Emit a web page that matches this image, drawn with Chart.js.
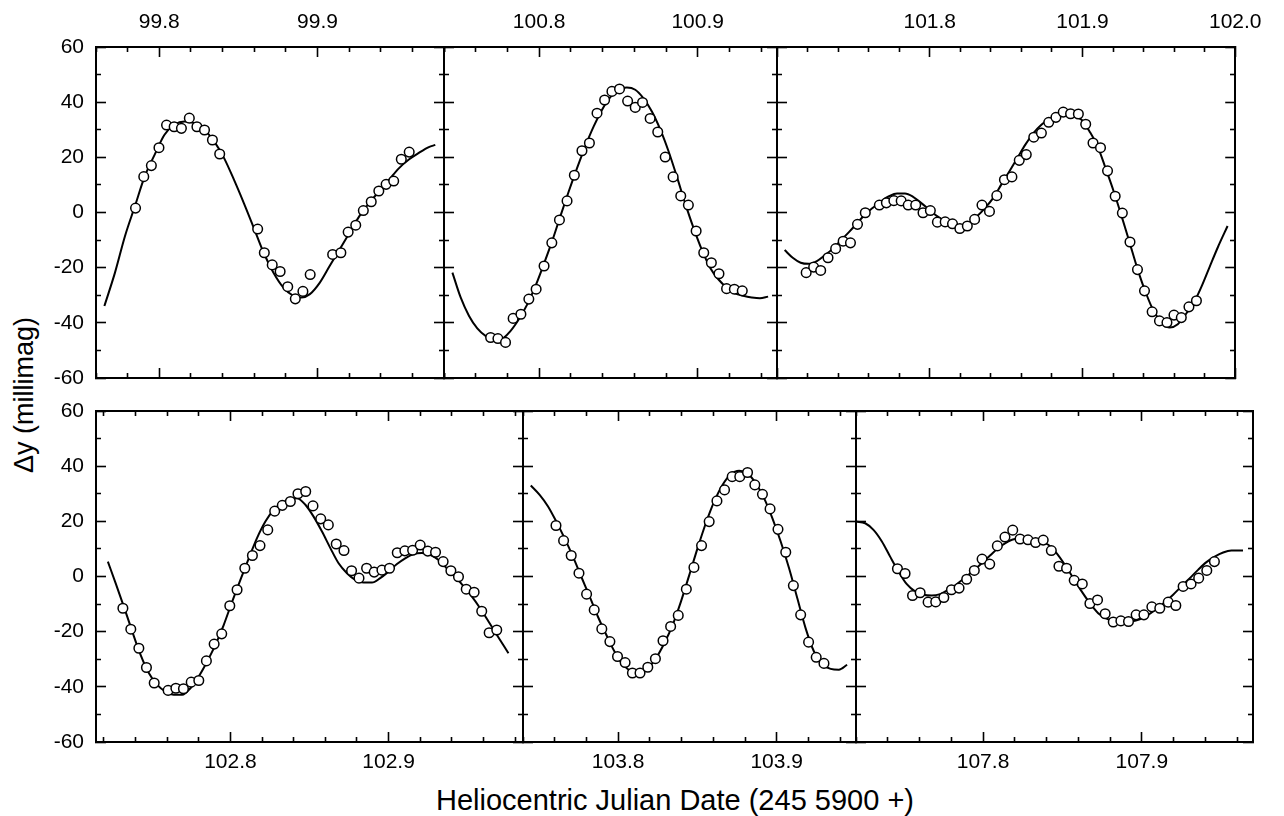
<!DOCTYPE html>
<html>
<head>
<meta charset="utf-8">
<script src="https://cdn.jsdelivr.net/npm/chart.js@4.4.1/dist/chart.umd.min.js"></script>
<style>
html,body{margin:0;padding:0;background:#fff;}
body{width:1284px;height:816px;position:relative;overflow:hidden;font-family:"Liberation Sans",Arial,Helvetica,sans-serif;color:#000;}
canvas{position:absolute;left:0;top:0;}
#ytitle{position:absolute;left:24px;top:395px;transform:translate(-50%,-50%) rotate(-90deg);font-size:27px;white-space:nowrap;}
#xtitle{position:absolute;left:675px;top:800px;transform:translate(-50%,-50%);font-size:29px;white-space:nowrap;}
</style>
</head>
<body>
<div id="ytitle">Δy (millimag)</div>
<div id="xtitle">Heliocentric Julian Date (245 5900 +)</div>
<canvas id="c1" width="1284" height="816"></canvas>
<canvas id="c2" width="1284" height="816"></canvas>
<canvas id="c3" width="1284" height="816"></canvas>
<canvas id="c4" width="1284" height="816"></canvas>
<canvas id="c5" width="1284" height="816"></canvas>
<canvas id="c6" width="1284" height="816"></canvas>
<script>
// ---------------- DATA (HJD - 2455900, Δy in millimag) ----------------
// Panel 1
const p1Time = [99.7850, 99.7902, 99.7950, 99.7998, 99.8046, 99.8094, 99.8140, 99.8190, 99.8238, 99.8286, 99.8336, 99.8382, 99.8622, 99.8664, 99.8714, 99.8764, 99.8812, 99.8860, 99.8908, 99.8954, 99.9096, 99.9148, 99.9194, 99.9242, 99.9290, 99.9340, 99.9388, 99.9434, 99.9482, 99.9530, 99.9580];
const p1Dy = [1.6, 13.0, 17.0, 23.5, 31.7, 31.1, 30.5, 34.2, 31.1, 29.9, 26.3, 21.2, -6.0, -14.6, -19.0, -21.4, -26.9, -31.3, -28.6, -22.5, -15.2, -14.6, -7.1, -4.6, 0.7, 3.9, 7.8, 10.2, 11.4, 19.3, 21.9];
const p1FitTime = [99.7653, 99.7720, 99.7783, 99.7846, 99.7908, 99.7971, 99.8033, 99.8096, 99.8159, 99.8221, 99.8284, 99.8347, 99.8409, 99.8472, 99.8534, 99.8597, 99.8660, 99.8722, 99.8785, 99.8848, 99.8900, 99.8952, 99.9015, 99.9077, 99.9140, 99.9203, 99.9265, 99.9328, 99.9390, 99.9453, 99.9516, 99.9578, 99.9641, 99.9704, 99.9745];
const p1FitDy = [-33.9, -21.8, -8.6, 2.3, 13.1, 21.0, 28.2, 31.8, 33.0, 32.4, 30.0, 25.8, 19.8, 11.9, 3.5, -5.5, -14.6, -21.8, -27.2, -30.2, -30.8, -29.6, -25.4, -19.4, -13.4, -7.3, -1.3, 3.5, 7.7, 11.9, 16.1, 19.2, 21.6, 23.7, 24.5];

// Panel 2
const p2Time = [100.7694, 100.7740, 100.7788, 100.7836, 100.7885, 100.7935, 100.7981, 100.8031, 100.8080, 100.8128, 100.8176, 100.8222, 100.8270, 100.8317, 100.8365, 100.8413, 100.8459, 100.8507, 100.8558, 100.8606, 100.8652, 100.8700, 100.8748, 100.8795, 100.8845, 100.8893, 100.8941, 100.8990, 100.9038, 100.9086, 100.9134, 100.9182, 100.9231, 100.9281];
const p2Dy = [-45.3, -45.7, -47.1, -38.4, -36.9, -31.4, -27.8, -19.4, -11.0, -2.7, 4.2, 13.5, 22.4, 25.2, 36.0, 40.8, 43.9, 44.8, 40.4, 38.1, 39.9, 34.1, 29.2, 20.1, 12.9, 6.0, 2.7, -6.7, -14.6, -18.2, -22.2, -27.6, -27.8, -28.4];
const p2FitTime = [100.7453, 100.7505, 100.7558, 100.7610, 100.7662, 100.7715, 100.7767, 100.7820, 100.7872, 100.7925, 100.7977, 100.8029, 100.8082, 100.8134, 100.8187, 100.8239, 100.8291, 100.8344, 100.8396, 100.8449, 100.8501, 100.8553, 100.8606, 100.8658, 100.8711, 100.8763, 100.8816, 100.8868, 100.8920, 100.8973, 100.9025, 100.9078, 100.9130, 100.9182, 100.9235, 100.9287, 100.9340, 100.9392, 100.9444];
const p2FitDy = [-21.8, -30.8, -37.5, -42.0, -44.7, -45.9, -45.7, -42.9, -38.7, -33.3, -26.6, -18.8, -10.4, -1.3, 7.7, 16.1, 24.0, 31.2, 37.2, 41.8, 44.5, 45.3, 44.5, 41.4, 36.6, 30.2, 22.2, 13.1, 3.5, -5.5, -13.4, -20.0, -24.2, -27.2, -29.3, -30.2, -30.8, -31.1, -30.5];

// Panel 3
const p3Time = [101.7191, 101.7240, 101.7286, 101.7334, 101.7384, 101.7433, 101.7481, 101.7527, 101.7578, 101.7670, 101.7716, 101.7765, 101.7813, 101.7859, 101.7908, 101.7956, 101.8004, 101.8050, 101.8101, 101.8149, 101.8197, 101.8246, 101.8294, 101.8342, 101.8391, 101.8439, 101.8489, 101.8538, 101.8586, 101.8632, 101.8681, 101.8731, 101.8779, 101.8826, 101.8874, 101.8922, 101.8973, 101.9021, 101.9069, 101.9118, 101.9164, 101.9214, 101.9261, 101.9311, 101.9360, 101.9406, 101.9456, 101.9504, 101.9553, 101.9599, 101.9647, 101.9697, 101.9746];
const p3Dy = [-21.8, -19.8, -21.0, -16.4, -13.1, -10.4, -11.0, -4.3, -0.1, 2.7, 3.5, 4.3, 4.2, 2.7, 2.7, -0.1, 0.7, -3.5, -3.4, -4.1, -5.8, -4.9, -2.5, 2.7, 0.4, 6.1, 11.9, 12.9, 18.9, 21.0, 27.3, 28.8, 32.7, 34.5, 36.4, 35.8, 35.7, 32.0, 25.2, 23.5, 15.1, 5.9, -0.2, -10.7, -20.7, -28.4, -36.0, -39.3, -39.9, -37.2, -38.1, -34.2, -32.0];
const p3FitTime = [101.7050, 101.7103, 101.7155, 101.7208, 101.7261, 101.7313, 101.7366, 101.7418, 101.7471, 101.7523, 101.7576, 101.7628, 101.7681, 101.7733, 101.7786, 101.7838, 101.7891, 101.7943, 101.7996, 101.8048, 101.8101, 101.8153, 101.8206, 101.8258, 101.8311, 101.8363, 101.8416, 101.8468, 101.8521, 101.8574, 101.8626, 101.8679, 101.8731, 101.8784, 101.8836, 101.8889, 101.8941, 101.8994, 101.9046, 101.9099, 101.9151, 101.9204, 101.9256, 101.9309, 101.9361, 101.9414, 101.9466, 101.9519, 101.9571, 101.9624, 101.9676, 101.9729, 101.9782, 101.9834, 101.9887, 101.9950];
const p3FitDy = [-13.6, -16.4, -18.2, -18.6, -17.6, -15.5, -13.1, -10.1, -7.1, -4.0, -0.7, 1.7, 4.1, 5.9, 6.9, 6.9, 5.7, 3.5, 1.1, -1.3, -3.1, -4.3, -4.7, -3.7, -1.3, 1.7, 5.3, 10.1, 14.9, 19.8, 24.6, 28.8, 31.8, 34.0, 35.2, 35.4, 35.1, 33.6, 29.4, 24.0, 16.1, 7.7, -1.3, -11.0, -20.6, -29.0, -35.7, -39.9, -41.7, -40.5, -36.9, -32.7, -26.5, -19.5, -12.5, -4.9];

// Panel 4
const p4Time = [102.7320, 102.7370, 102.7421, 102.7469, 102.7518, 102.7606, 102.7655, 102.7703, 102.7752, 102.7800, 102.7848, 102.7897, 102.7945, 102.7996, 102.8042, 102.8091, 102.8139, 102.8187, 102.8236, 102.8280, 102.8328, 102.8379, 102.8427, 102.8476, 102.8522, 102.8571, 102.8619, 102.8669, 102.8718, 102.8766, 102.8813, 102.8861, 102.8909, 102.8958, 102.9006, 102.9055, 102.9103, 102.9152, 102.9200, 102.9248, 102.9297, 102.9345, 102.9394, 102.9442, 102.9491, 102.9541, 102.9589, 102.9636, 102.9684];
const p4Dy = [-11.5, -19.1, -26.0, -33.0, -38.6, -41.3, -40.5, -40.7, -38.3, -37.7, -30.6, -24.5, -20.8, -10.6, -4.8, 3.0, 7.6, 11.2, 16.9, 23.7, 25.8, 27.2, 30.0, 30.8, 25.6, 20.9, 18.7, 11.8, 9.4, 2.1, -0.6, 3.0, 1.6, 2.3, 3.0, 8.6, 9.3, 9.5, 11.4, 9.2, 8.8, 5.4, 2.1, -0.1, -4.6, -5.7, -12.6, -20.4, -19.4];
const p4FitTime = [102.7225, 102.7274, 102.7326, 102.7379, 102.7432, 102.7484, 102.7537, 102.7590, 102.7642, 102.7695, 102.7747, 102.7800, 102.7853, 102.7905, 102.7958, 102.8011, 102.8063, 102.8116, 102.8168, 102.8221, 102.8274, 102.8326, 102.8379, 102.8421, 102.8474, 102.8526, 102.8579, 102.8632, 102.8684, 102.8737, 102.8789, 102.8842, 102.8895, 102.8947, 102.9000, 102.9053, 102.9105, 102.9158, 102.9211, 102.9263, 102.9316, 102.9368, 102.9421, 102.9474, 102.9526, 102.9579, 102.9632, 102.9684, 102.9758];
const p4FitDy = [5.4, -2.4, -10.9, -19.9, -28.4, -35.0, -39.3, -41.7, -42.9, -42.9, -40.5, -36.2, -30.8, -24.8, -17.5, -9.1, -1.2, 6.6, 13.9, 19.9, 24.2, 26.6, 28.1, 28.4, 26.0, 21.7, 16.3, 10.3, 4.8, 1.2, -1.2, -2.2, -2.2, -0.6, 1.8, 4.5, 6.6, 8.1, 8.5, 7.9, 6.0, 3.0, 0.0, -3.6, -7.2, -11.5, -16.3, -21.1, -27.8];

// Panel 5
const p5Time = [103.7608, 103.7656, 103.7704, 103.7753, 103.7801, 103.7849, 103.7897, 103.7948, 103.7996, 103.8044, 103.8090, 103.8138, 103.8187, 103.8235, 103.8283, 103.8331, 103.8379, 103.8430, 103.8478, 103.8526, 103.8574, 103.8623, 103.8671, 103.8719, 103.8767, 103.8816, 103.8862, 103.8910, 103.8958, 103.9008, 103.9057, 103.9105, 103.9151, 103.9201, 103.9249, 103.9298];
const p5Dy = [18.5, 13.0, 7.6, 1.2, -6.4, -12.1, -19.0, -23.6, -29.0, -31.2, -35.0, -35.0, -32.9, -29.8, -23.3, -18.1, -14.1, -4.6, 3.3, 11.2, 19.9, 27.4, 31.4, 36.2, 36.2, 37.7, 33.2, 29.8, 24.5, 17.1, 8.8, -3.3, -13.9, -23.8, -29.3, -31.5];
const p5FitTime = [103.7449, 103.7505, 103.7558, 103.7610, 103.7662, 103.7715, 103.7767, 103.7820, 103.7872, 103.7925, 103.7977, 103.8029, 103.8082, 103.8134, 103.8187, 103.8239, 103.8291, 103.8344, 103.8396, 103.8449, 103.8501, 103.8553, 103.8606, 103.8658, 103.8711, 103.8763, 103.8816, 103.8868, 103.8920, 103.8973, 103.9025, 103.9078, 103.9130, 103.9182, 103.9235, 103.9287, 103.9340, 103.9392, 103.9444];
const p5FitDy = [33.0, 29.6, 25.4, 19.9, 13.9, 7.2, 0.0, -7.2, -14.5, -21.1, -27.2, -31.8, -34.4, -35.0, -33.2, -29.6, -24.2, -17.5, -9.1, 0.6, 10.3, 19.3, 27.2, 33.2, 37.1, 38.3, 37.4, 33.8, 28.4, 21.1, 12.7, 3.0, -7.9, -18.7, -27.2, -31.8, -33.5, -33.8, -32.0];

// Panel 6
const p6Time = [107.7461, 107.7509, 107.7556, 107.7604, 107.7654, 107.7702, 107.7753, 107.7801, 107.7849, 107.7897, 107.7945, 107.7994, 107.8042, 107.8090, 107.8138, 107.8187, 107.8233, 107.8283, 107.8331, 107.8379, 107.8430, 107.8478, 107.8526, 107.8574, 107.8625, 107.8673, 107.8721, 107.8769, 107.8820, 107.8868, 107.8916, 107.8964, 107.9013, 107.9063, 107.9113, 107.9166, 107.9214, 107.9260, 107.9310, 107.9358, 107.9409, 107.9457];
const p6Dy = [2.8, 1.1, -6.9, -5.9, -9.3, -9.2, -7.6, -4.8, -4.2, -1.0, 2.2, 6.3, 4.5, 11.1, 14.3, 16.8, 13.6, 13.3, 12.3, 13.2, 9.4, 3.7, 3.0, -1.4, -2.7, -9.8, -8.5, -13.5, -16.5, -16.1, -16.3, -13.9, -13.9, -11.0, -11.5, -9.3, -10.5, -3.6, -2.7, -0.6, 2.2, 5.4];
const p6FitTime = [107.7200, 107.7258, 107.7310, 107.7363, 107.7415, 107.7468, 107.7520, 107.7572, 107.7625, 107.7677, 107.7730, 107.7782, 107.7834, 107.7887, 107.7939, 107.7992, 107.8044, 107.8096, 107.8149, 107.8201, 107.8254, 107.8306, 107.8358, 107.8411, 107.8463, 107.8516, 107.8568, 107.8621, 107.8673, 107.8725, 107.8778, 107.8830, 107.8883, 107.8935, 107.8987, 107.9040, 107.9092, 107.9145, 107.9197, 107.9249, 107.9302, 107.9354, 107.9407, 107.9459, 107.9512, 107.9564, 107.9637];
const p6FitDy = [19.9, 19.3, 16.9, 12.7, 7.2, 1.8, -2.8, -5.4, -6.6, -6.9, -6.4, -4.8, -2.8, -0.4, 2.1, 4.8, 7.6, 10.3, 12.4, 13.6, 13.6, 13.3, 12.7, 11.5, 8.5, 4.2, -0.6, -5.4, -9.7, -13.3, -15.3, -16.3, -16.5, -16.3, -15.5, -13.9, -11.8, -9.3, -6.6, -3.6, -0.6, 2.4, 5.2, 7.2, 8.7, 9.4, 9.4];

// Axis ranges / tick steps
const xRanges = [[99.76, 99.98], [100.74, 100.95], [101.70, 102.00], [102.715, 102.985], [103.74, 103.95], [107.72, 107.97]];
const yRange = [-60, 60];
const xMajorStep = 0.1, xMinorStep = 0.02, yMajorStep = 20, yMinorStep = 10;

// ---------------- LAYOUT ----------------
const W = 1284, H = 816;
const panelBoxes = [
  [96, 47, 444, 378], [444, 47, 777, 378], [777, 47, 1253, 378],
  [96, 411, 523, 742], [523, 411, 856, 742], [856, 411, 1253, 742]
];
const panelSeries = [
  [p1Time, p1Dy, p1FitTime, p1FitDy], [p2Time, p2Dy, p2FitTime, p2FitDy], [p3Time, p3Dy, p3FitTime, p3FitDy],
  [p4Time, p4Dy, p4FitTime, p4FitDy], [p5Time, p5Dy, p5FitTime, p5FitDy], [p6Time, p6Dy, p6FitTime, p6FitDy]
];
const FONT = {family: '"Liberation Sans", Arial, Helvetica, sans-serif', size: 21};
const MAJOR_LEN = 10, MINOR_LEN = 5;

function zip(xs, ys) {
  const n = Math.min(xs.length, ys.length), out = [];
  for (let i = 0; i < n; i++) out.push({x: xs[i], y: ys[i]});
  return out;
}
function isMultiple(v, step) {
  const r = v / step;
  return Math.abs(r - Math.round(r)) < 1e-6;
}

// one axis per side: every minor step a tick; ticks that are not on a major step are shortened with a dash pattern
function axis(ax, position, min, max, minorStep, majorStep, size, showLabels, pad, fmt) {
  const startsAtBorder = (position === 'bottom' || position === 'right');
  const shortDash = startsAtBorder ? [MINOR_LEN + 1, 200] : [0, MAJOR_LEN - MINOR_LEN, MINOR_LEN + 1, 200];
  return {
    type: 'linear', axis: ax, position, min, max,
    afterFit: s => { if (ax === 'x') s.height = size; else s.width = size; },
    grid: {
      display: true, drawOnChartArea: false, drawTicks: true, tickLength: -MAJOR_LEN, tickWidth: 1.6, tickColor: '#000',
      tickBorderDash: c => (c.tick && isMultiple(c.tick.value, majorStep)) ? [] : shortDash
    },
    border: {display: true, color: '#000', width: 2},
    ticks: {
      display: showLabels, stepSize: minorStep, includeBounds: false, autoSkip: false, maxRotation: 0, minRotation: 0,
      padding: pad, color: '#000', font: FONT,
      callback: v => (isMultiple(v, majorStep) && fmt) ? fmt(v) : ''
    }
  };
}

Chart.defaults.font.family = FONT.family;

panelBoxes.forEach((box, i) => {
  const [xMin, xMax] = xRanges[i];
  const [t, dy, ft, fdy] = panelSeries[i];
  const topRow = i < 3;
  const yLabels = (i === 0 || i === 3);
  const xFmt = v => (Math.abs(v - xMin) < 1e-6 ? '' : Number(v).toFixed(1));
  const yFmt = v => String(Math.round(v));
  const scales = {
    xT: axis('x', 'top', xMin, xMax, xMinorStep, xMajorStep, box[1], topRow, 22.5, xFmt),
    xB: axis('x', 'bottom', xMin, xMax, xMinorStep, xMajorStep, H - box[3], !topRow, 18, xFmt),
    yL: axis('y', 'left', yRange[0], yRange[1], yMinorStep, yMajorStep, box[0], yLabels, 22, yFmt),
    yR: axis('y', 'right', yRange[0], yRange[1], yMinorStep, yMajorStep, W - box[2], false, 0, null)
  };
  new Chart(document.getElementById('c' + (i + 1)), {
    type: 'scatter',
    data: {
      datasets: [
        {
          label: 'fit', data: zip(ft, fdy), showLine: true, pointRadius: 0, pointHoverRadius: 0,
          borderColor: '#000', borderWidth: 2, cubicInterpolationMode: 'monotone', fill: false,
          order: 2, xAxisID: 'xB', yAxisID: 'yL'
        },
        {
          label: 'observed', data: zip(t, dy), showLine: false, pointStyle: 'circle',
          pointRadius: 4.8, pointHoverRadius: 4.8, pointBorderWidth: 1.5,
          pointBorderColor: '#000', pointBackgroundColor: '#fff', borderColor: '#000', backgroundColor: '#fff',
          order: 1, xAxisID: 'xB', yAxisID: 'yL'
        }
      ]
    },
    options: {
      responsive: false, animation: false, devicePixelRatio: 1, events: [],
      layout: {autoPadding: false, padding: 0},
      plugins: {legend: {display: false}, tooltip: {enabled: false}, title: {display: false}},
      scales
    }
  });
});
</script>
</body>
</html>
